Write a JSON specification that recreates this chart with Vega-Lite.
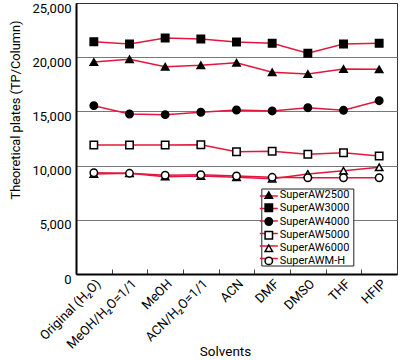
{
  "$schema": "https://vega.github.io/schema/vega-lite/v6.json",
  "width": 321,
  "height": 271,
  "autosize": "none",
  "padding": {"left": 76, "top": 3, "right": 3, "bottom": 86},
  "background": "white",
  "config": {
    "font": "Roboto, Liberation Sans, sans-serif",
    "view": {"stroke": "#333", "strokeWidth": 1}
  },
  "data": {"values": [
    {"series": "SuperAW2500", "solvent": "Original (H₂O)", "plates": 19560},
    {"series": "SuperAW2500", "solvent": "MeOH/H₂O=1/1", "plates": 19810},
    {"series": "SuperAW2500", "solvent": "MeOH", "plates": 19120},
    {"series": "SuperAW2500", "solvent": "ACN/H₂O=1/1", "plates": 19250},
    {"series": "SuperAW2500", "solvent": "ACN", "plates": 19490},
    {"series": "SuperAW2500", "solvent": "DMF", "plates": 18610},
    {"series": "SuperAW2500", "solvent": "DMSO", "plates": 18450},
    {"series": "SuperAW2500", "solvent": "THF", "plates": 18910},
    {"series": "SuperAW2500", "solvent": "HFIP", "plates": 18880},
    {"series": "SuperAW3000", "solvent": "Original (H₂O)", "plates": 21430},
    {"series": "SuperAW3000", "solvent": "MeOH/H₂O=1/1", "plates": 21220},
    {"series": "SuperAW3000", "solvent": "MeOH", "plates": 21770},
    {"series": "SuperAW3000", "solvent": "ACN/H₂O=1/1", "plates": 21680},
    {"series": "SuperAW3000", "solvent": "ACN", "plates": 21400},
    {"series": "SuperAW3000", "solvent": "DMF", "plates": 21280},
    {"series": "SuperAW3000", "solvent": "DMSO", "plates": 20360},
    {"series": "SuperAW3000", "solvent": "THF", "plates": 21220},
    {"series": "SuperAW3000", "solvent": "HFIP", "plates": 21280},
    {"series": "SuperAW4000", "solvent": "Original (H₂O)", "plates": 15530},
    {"series": "SuperAW4000", "solvent": "MeOH/H₂O=1/1", "plates": 14760},
    {"series": "SuperAW4000", "solvent": "MeOH", "plates": 14700},
    {"series": "SuperAW4000", "solvent": "ACN/H₂O=1/1", "plates": 14920},
    {"series": "SuperAW4000", "solvent": "ACN", "plates": 15130},
    {"series": "SuperAW4000", "solvent": "DMF", "plates": 15040},
    {"series": "SuperAW4000", "solvent": "DMSO", "plates": 15340},
    {"series": "SuperAW4000", "solvent": "THF", "plates": 15100},
    {"series": "SuperAW4000", "solvent": "HFIP", "plates": 15990},
    {"series": "SuperAW5000", "solvent": "Original (H₂O)", "plates": 11900},
    {"series": "SuperAW5000", "solvent": "MeOH/H₂O=1/1", "plates": 11900},
    {"series": "SuperAW5000", "solvent": "MeOH", "plates": 11900},
    {"series": "SuperAW5000", "solvent": "ACN/H₂O=1/1", "plates": 11930},
    {"series": "SuperAW5000", "solvent": "ACN", "plates": 11280},
    {"series": "SuperAW5000", "solvent": "DMF", "plates": 11320},
    {"series": "SuperAW5000", "solvent": "DMSO", "plates": 11040},
    {"series": "SuperAW5000", "solvent": "THF", "plates": 11190},
    {"series": "SuperAW5000", "solvent": "HFIP", "plates": 10890},
    {"series": "SuperAW6000", "solvent": "Original (H₂O)", "plates": 9230},
    {"series": "SuperAW6000", "solvent": "MeOH/H₂O=1/1", "plates": 9290},
    {"series": "SuperAW6000", "solvent": "MeOH", "plates": 8980},
    {"series": "SuperAW6000", "solvent": "ACN/H₂O=1/1", "plates": 9040},
    {"series": "SuperAW6000", "solvent": "ACN", "plates": 8920},
    {"series": "SuperAW6000", "solvent": "DMF", "plates": 8790},
    {"series": "SuperAW6000", "solvent": "DMSO", "plates": 9230},
    {"series": "SuperAW6000", "solvent": "THF", "plates": 9530},
    {"series": "SuperAW6000", "solvent": "HFIP", "plates": 9840},
    {"series": "SuperAWM-H", "solvent": "Original (H₂O)", "plates": 9340},
    {"series": "SuperAWM-H", "solvent": "MeOH/H₂O=1/1", "plates": 9290},
    {"series": "SuperAWM-H", "solvent": "MeOH", "plates": 9110},
    {"series": "SuperAWM-H", "solvent": "ACN/H₂O=1/1", "plates": 9160},
    {"series": "SuperAWM-H", "solvent": "ACN", "plates": 9040},
    {"series": "SuperAWM-H", "solvent": "DMF", "plates": 8920},
    {"series": "SuperAWM-H", "solvent": "DMSO", "plates": 8880},
    {"series": "SuperAWM-H", "solvent": "THF", "plates": 8880},
    {"series": "SuperAWM-H", "solvent": "HFIP", "plates": 8880}
  ]},
  "encoding": {
    "x": {
      "field": "solvent", "type": "nominal",
      "scale": {"type": "band", "paddingInner": 0, "paddingOuter": 0,
        "domain": ["Original (H₂O)", "MeOH/H₂O=1/1", "MeOH", "ACN/H₂O=1/1", "ACN", "DMF", "DMSO", "THF", "HFIP"]},
      "axis": {
        "title": "Solvents", "labelAngle": -45, "labelOverlap": false,
        "tickBand": "extent", "tickSize": -5, "tickColor": "#444", "tickWidth": 1,
        "labelPadding": 8, "domainColor": "black", "domainWidth": 2, "grid": false,
        "labelFontSize": 13, "labelColor": "black",
        "titleFontSize": 13.5, "titleFontWeight": "normal", "titleColor": "black",
        "titleX": 149, "titleY": 70
      }
    },
    "y": {
      "field": "plates", "type": "quantitative",
      "scale": {"domain": [0, 25000], "nice": false},
      "axis": {
        "title": "Theoretical plates (TP/Column)",
        "values": [0, 5000, 10000, 15000, 20000, 25000], "format": ",.0f",
        "ticks": false, "tickSize": 0, "labelPadding": 5, "labelOffset": 5,
        "domainColor": "black", "domainWidth": 2,
        "grid": true,
        "gridColor": {"condition": {"test": "datum.value === 25000", "value": "#333"}, "value": "#777"},
        "labelFontSize": 13, "labelColor": "black",
        "titleFontSize": 12.8, "titleFontWeight": "normal", "titleColor": "black",
        "titleAnchor": "end", "titleX": -54, "titleY": 17
      }
    }
  },
  "layer": [
    {
      "mark": {"type": "line", "strokeWidth": 1.5},
      "encoding": {
        "color": {
          "field": "series", "type": "nominal",
          "scale": {"range": ["#e3173e", "#e3173e", "#e3173e", "#e3173e", "#e3173e", "#e3173e"]},
          "legend": {
            "title": null, "orient": "none", "legendX": 185.3, "legendY": 185.5,
            "symbolType": "M-2.43,0H2.43", "symbolSize": 55, "symbolStrokeWidth": 1.5,
            "labelFontSize": 11, "labelOffset": 7,
            "padding": 2, "rowPadding": 0.5,
            "fillColor": "white", "strokeColor": "#222",
            "encode": {"labels": {"update": {"opacity": {"value": 0}}}}
          }
        }
      }
    },
    {
      "mark": {"type": "point", "filled": true, "size": 55, "strokeWidth": 1.5, "opacity": 1},
      "encoding": {
        "shape": {
          "field": "series", "type": "nominal",
          "scale": {
            "domain": ["SuperAW2500", "SuperAW3000", "SuperAW4000", "SuperAW5000", "SuperAW6000", "SuperAWM-H"],
            "range": ["triangle-up", "square", "circle", "square", "triangle-up", "circle"]
          },
          "legend": {
            "title": null, "orient": "none", "legendX": 187.3, "legendY": 186.6,
            "symbolSize": 55, "symbolStrokeWidth": 1.5,
            "labelFontSize": 11, "labelColor": "black", "labelOffset": 5.4,
            "padding": 0, "rowPadding": -1.3
          }
        },
        "fill": {
          "field": "series", "type": "nominal",
          "scale": {
            "domain": ["SuperAW2500", "SuperAW3000", "SuperAW4000", "SuperAW5000", "SuperAW6000", "SuperAWM-H"],
            "range": ["black", "black", "black", "white", "white", "white"]
          },
          "legend": {
            "title": null, "orient": "none", "legendX": 187.3, "legendY": 186.6,
            "symbolSize": 55, "symbolStrokeWidth": 1.5,
            "labelFontSize": 11, "labelColor": "black", "labelOffset": 5.4,
            "padding": 0, "rowPadding": -1.3
          }
        },
        "stroke": {
          "field": "series", "type": "nominal",
          "scale": {
            "domain": ["SuperAW2500", "SuperAW3000", "SuperAW4000", "SuperAW5000", "SuperAW6000", "SuperAWM-H"],
            "range": ["black", "black", "black", "black", "black", "black"]
          },
          "legend": {
            "title": null, "orient": "none", "legendX": 187.3, "legendY": 186.6,
            "symbolSize": 55, "symbolStrokeWidth": 1.5,
            "labelFontSize": 11, "labelColor": "black", "labelOffset": 5.4,
            "padding": 0, "rowPadding": -1.3
          }
        }
      }
    }
  ]
}
